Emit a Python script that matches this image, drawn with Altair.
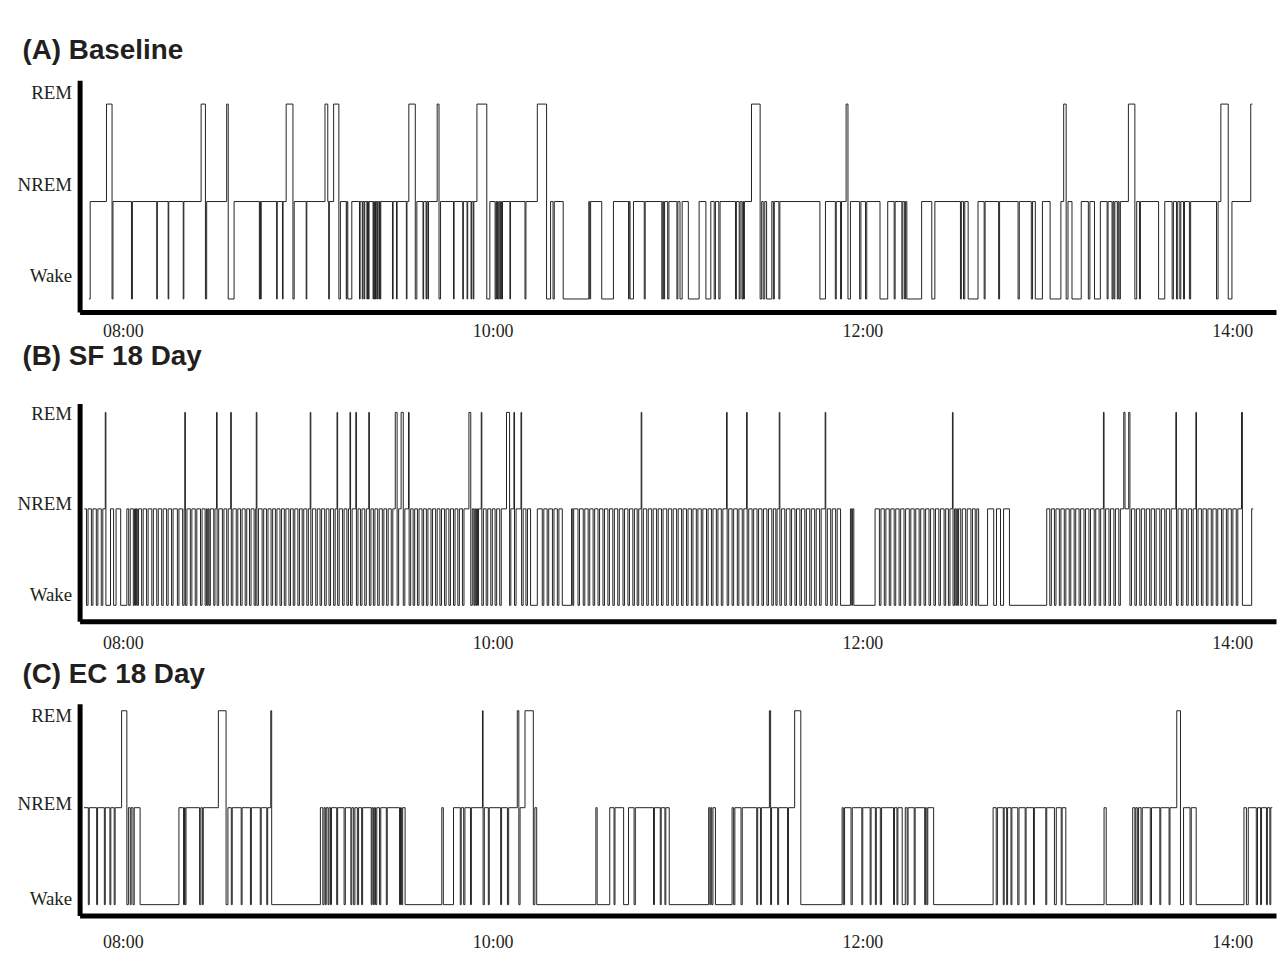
import altair as alt
import pandas as pd

# ---- axis text -------------------------------------------------------------
X_TICK_VALUES = [0, 120, 240, 360]            # minutes after 08:00
X_TICK_LABELS = ["08:00", "10:00", "12:00", "14:00"]
Y_LABELS = ["Wake", "NREM", "REM"]             # levels 0, 1, 2
TITLES = ["(A) Baseline", "(B) SF 18 Day", "(C) EC 18 Day"]

# ---- episodes (minutes after 08:00); NREM everywhere else -----------------
A_START, A_END = -11.0, 366.5
A_WAKE = [(-11.0, -10.6), (-3.5, -3.2), (2.8, 3.1), (11.0, 11.2), (14.7, 14.9), (19.6, 19.8),
          (26.8, 27.2), (34.2, 36.1), (44.3, 44.5), (44.7, 44.9), (49.9, 50.1), (51.8, 52.0),
          (55.2, 55.6), (59.5, 59.7), (66.8, 67.0), (70.1, 70.6), (72.5, 72.7), (73.0, 74.3),
          (76.8, 77.0), (77.7, 77.9), (78.3, 78.5), (79.2, 79.4), (79.7, 79.9), (81.2, 81.4),
          (81.6, 81.8), (82.0, 82.2), (82.5, 82.7), (83.1, 83.3), (83.5, 83.7), (87.5, 87.7),
          (88.8, 89.0), (92.0, 92.2), (94.9, 95.4), (97.4, 97.6), (98.4, 98.6), (99.0, 99.2),
          (102.6, 103.1), (107.3, 107.5), (110.3, 110.5), (111.7, 111.9), (113.0, 113.2),
          (113.7, 113.9), (118.1, 119.1), (120.8, 121.1), (121.3, 121.6), (121.8, 122.1),
          (122.4, 122.6), (122.9, 123.2), (125.6, 125.8), (130.5, 130.8), (137.5, 138.8),
          (139.6, 140.0), (142.9, 151.2), (151.5, 151.8), (155.4, 159.2), (164.1, 164.3),
          (164.6, 165.7), (169.2, 169.5), (174.9, 175.2), (175.5, 175.8), (176.8, 177.2),
          (179.8, 180.1), (180.8, 181.5), (183.5, 187.0), (189.2, 190.8), (191.9, 192.3),
          (193.4, 193.8), (198.8, 199.1), (200.0, 200.3), (200.9, 201.2), (201.4, 201.7),
          (206.8, 207.3), (207.8, 208.3), (208.9, 210.6), (211.1, 211.4), (212.9, 213.2),
          (226.2, 228.0), (231.2, 231.5), (232.9, 233.2), (235.3, 236.1), (239.1, 239.5),
          (241.0, 241.4), (245.7, 248.2), (250.3, 250.6), (252.8, 253.1), (253.7, 254.0),
          (254.4, 259.2), (262.5, 263.5), (271.8, 272.1), (272.8, 273.2), (274.3, 277.5),
          (279.5, 279.8), (284.2, 284.5), (290.5, 290.9), (294.8, 295.2), (296.1, 298.4),
          (300.9, 304.4), (306.1, 306.7), (308.0, 311.0), (313.3, 313.8), (315.3, 317.2),
          (319.4, 319.7), (321.0, 321.3), (321.6, 321.9), (322.7, 323.0), (323.3, 323.7),
          (328.4, 329.0), (329.9, 330.2), (336.1, 338.1), (340.5, 340.9), (341.9, 342.3),
          (343.0, 343.3), (344.2, 344.5), (346.1, 346.5), (354.9, 355.4), (358.7, 359.9)]
A_REM = [(-5.3, -3.5), (25.4, 26.8), (33.7, 34.2), (53.0, 55.2), (65.6, 66.5), (68.4, 70.1),
         (92.8, 94.9), (102.0, 102.6), (114.9, 118.1), (134.5, 137.5), (204.0, 206.8),
         (234.7, 235.3), (305.3, 306.1), (326.3, 328.4), (356.3, 358.7), (366.0, 366.5)]

B_START, B_END = -12.5, 366.8
B_WAKE = [(-11.8, -11.3), (-10.2, -9.7), (-8.6, -8.1), (-7.0, -6.5), (-5.5, -4.0), (-3.0, -2.2),
          (-0.7, 1.3), (1.9, 2.4), (3.4, 3.8), (4.1, 4.4), (4.7, 5.1), (6.1, 6.6), (7.7, 8.2),
          (9.4, 9.9), (11.0, 11.5), (12.6, 13.1), (14.2, 14.7), (15.8, 16.3), (17.7, 18.2),
          (19.4, 19.9), (20.3, 20.8), (21.9, 22.4), (23.5, 24.0), (25.2, 25.7), (26.7, 27.1),
          (27.4, 27.7), (28.0, 28.4), (29.5, 29.9), (30.6, 31.1), (32.3, 32.8), (33.7, 34.2),
          (35.2, 35.7), (36.8, 37.3), (38.2, 38.7), (39.7, 40.2), (41.1, 41.6), (42.6, 43.1),
          (43.5, 44.0), (45.2, 45.7), (46.6, 47.1), (48.1, 48.6), (49.5, 50.0), (51.0, 51.5),
          (52.4, 52.9), (53.9, 54.4), (55.3, 55.8), (56.8, 57.3), (58.2, 58.7), (59.7, 60.2),
          (61.0, 61.5), (62.6, 63.1), (64.0, 64.5), (65.5, 66.0), (66.9, 67.4), (68.4, 68.9),
          (69.7, 70.2), (71.3, 71.8), (72.7, 73.2), (73.9, 74.4), (75.8, 76.3), (77.1, 77.6),
          (78.5, 79.0), (80.0, 80.5), (81.3, 81.8), (82.7, 83.2), (84.2, 84.7), (85.6, 86.1),
          (87.1, 87.6), (89.0, 89.5), (91.0, 91.5), (92.9, 93.4), (94.2, 94.7), (95.6, 96.1),
          (97.1, 97.6), (98.5, 99.0), (100.0, 100.5), (101.5, 102.0), (102.9, 103.4),
          (104.4, 104.9), (105.8, 106.3), (107.3, 107.8), (108.7, 109.2), (110.2, 110.7),
          (112.9, 113.4), (113.9, 114.2), (114.5, 114.8), (115.1, 115.4), (116.5, 117.0),
          (117.9, 118.4), (119.4, 119.9), (120.8, 121.3), (122.3, 122.8), (125.5, 125.9),
          (127.1, 127.6), (129.4, 129.9), (130.8, 131.3), (132.3, 134.5), (136.1, 136.6),
          (137.7, 138.2), (139.4, 139.9), (141.0, 141.5), (142.6, 145.6), (146.0, 146.3),
          (147.7, 148.2), (149.4, 149.9), (151.0, 151.5), (152.6, 153.1), (154.2, 154.7),
          (155.8, 156.3), (157.4, 157.9), (159.0, 159.5), (160.6, 161.1), (162.3, 162.8),
          (163.9, 164.4), (165.5, 166.0), (166.9, 167.4), (168.4, 168.9), (170.0, 170.5),
          (171.6, 172.1), (173.2, 173.7), (174.8, 175.3), (176.5, 177.0), (178.1, 178.6),
          (179.7, 180.2), (181.3, 181.8), (182.9, 183.4), (184.5, 185.0), (186.1, 186.6),
          (187.7, 188.2), (189.4, 189.9), (191.0, 191.5), (192.6, 193.1), (194.2, 194.7),
          (196.1, 196.6), (197.7, 198.2), (199.4, 199.9), (201.0, 201.5), (202.6, 203.1),
          (204.2, 204.7), (205.8, 206.3), (207.4, 207.9), (209.0, 209.5), (210.6, 211.1),
          (211.9, 212.3), (213.2, 213.7), (214.8, 215.3), (216.5, 217.0), (218.1, 218.6),
          (219.7, 220.2), (221.3, 221.8), (222.9, 223.4), (224.5, 225.0), (226.1, 226.6),
          (228.1, 228.6), (229.7, 230.2), (231.3, 231.8), (232.9, 236.1), (236.5, 236.8),
          (237.2, 244.1), (245.5, 246.0), (247.1, 247.6), (248.7, 249.2), (250.3, 250.8),
          (251.9, 252.4), (253.5, 254.0), (255.2, 255.7), (256.8, 257.3), (258.4, 258.9),
          (260.0, 260.5), (261.6, 262.1), (263.2, 263.7), (264.8, 265.3), (266.5, 267.0),
          (267.9, 268.4), (269.4, 269.9), (270.3, 270.6), (270.9, 271.2), (271.9, 272.4),
          (273.5, 274.0), (275.2, 275.7), (276.6, 277.1), (277.7, 280.6), (282.6, 283.5),
          (284.8, 285.8), (287.7, 299.8), (300.8, 301.3), (302.3, 302.8), (303.9, 304.4),
          (305.5, 306.0), (307.1, 307.6), (308.7, 309.2), (310.3, 310.8), (311.9, 312.4),
          (313.5, 314.0), (315.2, 315.7), (316.8, 317.3), (318.4, 318.9), (320.0, 320.5),
          (321.6, 322.1), (323.2, 323.7), (326.8, 327.3), (328.4, 328.9), (330.0, 330.5),
          (331.6, 332.1), (333.2, 333.7), (334.8, 335.3), (336.5, 337.0), (338.1, 338.6),
          (339.7, 340.2), (341.9, 342.4), (343.5, 344.0), (345.2, 345.7), (346.8, 347.3),
          (348.4, 348.9), (350.0, 350.5), (351.6, 352.1), (353.2, 353.7), (354.8, 355.3),
          (356.5, 357.0), (358.1, 358.6), (359.7, 360.2), (361.3, 361.8), (363.3, 366.3)]
B_REM = [(-5.7, -5.5), (20.1, 20.3), (30.4, 30.6), (35.0, 35.2), (43.3, 43.5), (60.8, 61.0),
         (69.5, 69.7), (73.7, 73.9), (75.6, 75.8), (79.8, 80.0), (88.4, 89.0), (90.3, 91.0),
         (92.7, 92.9), (112.3, 112.9), (116.3, 116.5), (124.5, 125.5), (126.9, 127.1),
         (129.2, 129.4), (168.2, 168.4), (195.9, 196.1), (202.4, 202.6), (213.0, 213.2),
         (227.9, 228.1), (269.2, 269.4), (318.2, 318.4), (324.8, 325.2), (326.4, 326.8),
         (341.7, 341.9), (348.2, 348.4), (363.0, 363.3)]

C_START, C_END = -12.6, 373.0
C_WAKE = [(-11.2, -10.9), (-8.5, -8.2), (-6.0, -5.7), (-4.2, -3.9), (-2.8, -2.5), (1.3, 1.8),
          (2.4, 2.7), (3.3, 3.7), (5.6, 18.2), (19.7, 20.0), (20.2, 20.5), (24.9, 25.3),
          (25.8, 26.1), (33.5, 34.1), (35.2, 35.5), (38.4, 38.7), (41.4, 41.7), (44.6, 44.9),
          (46.7, 47.0), (48.3, 64.1), (64.9, 65.3), (65.7, 66.0), (66.6, 66.9), (67.4, 67.7),
          (69.4, 69.7), (71.8, 72.2), (74.0, 74.3), (74.9, 75.3), (76.1, 76.5), (77.5, 77.8),
          (80.6, 80.9), (81.3, 81.6), (82.0, 82.4), (83.3, 83.7), (85.5, 85.8), (89.8, 90.1),
          (90.4, 90.8), (91.6, 103.5), (104.0, 107.3), (109.5, 109.8), (110.6, 111.0),
          (112.8, 113.1), (116.9, 117.3), (118.6, 118.9), (122.6, 122.9), (124.8, 125.2),
          (128.5, 128.9), (133.2, 133.7), (134.3, 153.5), (153.9, 158.0), (159.4, 159.7),
          (162.5, 164.1), (165.9, 166.3), (172.2, 172.5), (174.4, 174.7), (175.9, 176.2),
          (177.3, 190.1), (190.5, 190.8), (191.1, 191.5), (192.3, 197.7), (198.2, 198.6),
          (200.6, 201.0), (205.7, 206.0), (206.9, 207.2), (210.2, 210.5), (212.5, 212.8),
          (215.7, 216.0), (220.0, 233.4), (233.8, 234.2), (236.3, 236.7), (239.8, 240.1),
          (242.5, 242.8), (244.2, 244.5), (245.8, 246.2), (250.1, 250.4), (251.2, 251.5),
          (252.9, 253.9), (254.5, 254.8), (256.8, 257.1), (260.2, 260.5), (260.9, 261.2),
          (263.1, 282.4), (283.4, 283.8), (285.7, 286.0), (286.8, 287.1), (288.2, 288.5),
          (290.4, 290.8), (292.8, 293.1), (295.5, 295.8), (299.5, 299.8), (302.3, 302.9),
          (304.5, 304.8), (306.0, 318.4), (319.1, 327.7), (328.4, 328.7), (329.2, 329.6),
          (330.4, 330.8), (333.4, 333.8), (336.5, 336.8), (339.5, 339.8), (343.2, 344.2),
          (346.3, 346.7), (348.3, 363.8), (364.6, 365.2), (367.8, 368.2), (369.2, 369.5),
          (371.1, 371.4), (372.2, 372.5)]
C_REM = [(-0.4, 1.3), (31.0, 33.5), (48.0, 48.3), (116.7, 116.9), (128.0, 128.5),
         (130.5, 133.2), (209.8, 210.2), (218.0, 220.0), (342.0, 343.2)]


def build(start, end, wake, rem):
    def level(t):
        for s, e in wake:
            if s <= t < e:
                return 0
        for s, e in rem:
            if s <= t < e:
                return 2
        return 1
    times = sorted({start, end} | {t for ep in wake + rem for t in ep if start <= t <= end})
    rows = []
    for t in times:
        lv = level(t) if t < end else level(end - 1e-6)
        rows.append({"t": t, "level": lv})
    return pd.DataFrame(rows)


X_DOMAIN = [-14.03, 374.2]
x_expr = " : ".join(f"datum.value == {v} ? '{l}'" for v, l in zip(X_TICK_VALUES, X_TICK_LABELS)) + " : ''"
y_expr = f"datum.value > 1.5 ? '{Y_LABELS[2]}' : datum.value > 0.6 ? '{Y_LABELS[1]}' : '{Y_LABELS[0]}'"

AX = dict(domainColor="#000000", domainWidth=5, ticks=False, tickSize=0, grid=False,
          labelFont="Liberation Serif", labelColor="#231f20", title=None)


def panel(df, title, height, ydom, yvals, title_offset, xpad):
    return alt.Chart(df).mark_line(
        interpolate="step-after", color="#222222", strokeWidth=1, clip=True
    ).encode(
        x=alt.X("t:Q", scale=alt.Scale(domain=X_DOMAIN, nice=False, zero=False),
                axis=alt.Axis(values=X_TICK_VALUES, labelExpr=x_expr, labelPadding=xpad,
                              labelFontSize=18, **AX)),
        y=alt.Y("level:Q", scale=alt.Scale(domain=ydom, nice=False, zero=False),
                axis=alt.Axis(values=yvals, labelExpr=y_expr, labelPadding=8, labelFontSize=19,
                              minExtent=71.5, maxExtent=71.5, **AX)),
    ).properties(
        width=1203, height=height,
        title=alt.TitleParams(title, anchor="start", frame="group", dx=-57.5,
                              offset=title_offset, fontSize=28, font="Liberation Sans",
                              fontWeight="bold", color="#231f20"),
    )


pa = panel(build(A_START, A_END, A_WAKE, A_REM), TITLES[0], 233,
           [-0.133, 2.245], [0.245, 1.17, 2.12], 15, 11)
pb = panel(build(B_START, B_END, B_WAKE, B_REM), TITLES[1], 219,
           [-0.165, 2.093], [0.107, 1.056, 1.99], 33, 13)
pc = panel(build(C_START, C_END, C_WAKE, C_REM), TITLES[2], 213,
           [-0.113, 2.072], [0.06, 1.045, 1.95], 15, 18)

top = alt.vconcat(pa, pb, spacing=0)
chart = alt.vconcat(top, pc, spacing=7).properties(
    padding={"top": 26, "left": 0, "right": 0, "bottom": 0}
).configure_view(stroke="transparent")

chart.save("out.html", embed_options={"renderer": "svg", "actions": False})
